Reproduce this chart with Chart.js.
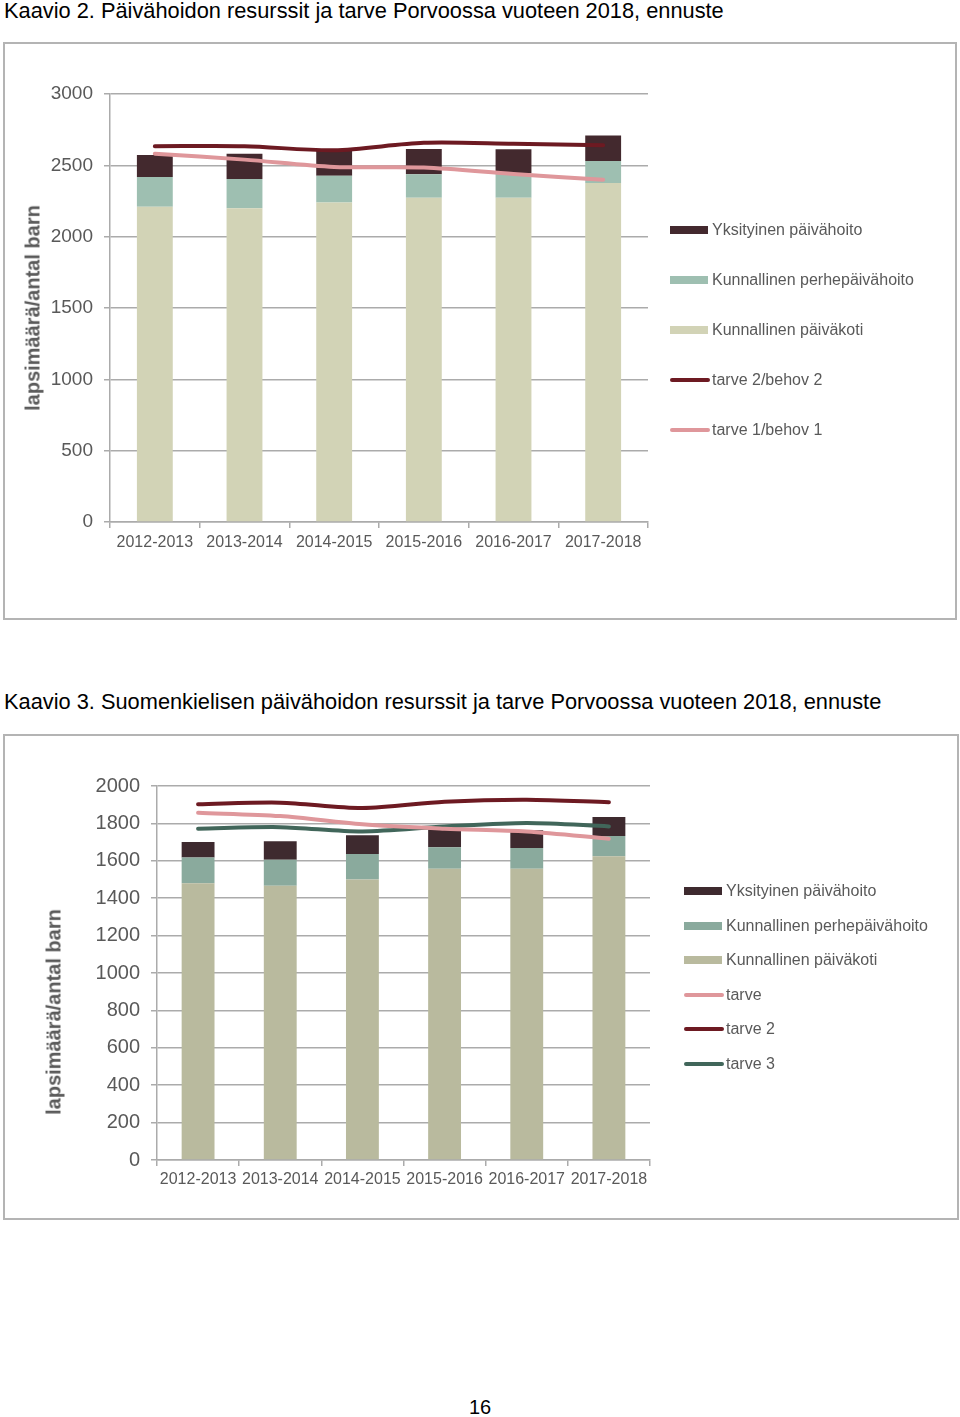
<!DOCTYPE html>
<html>
<head>
<meta charset="utf-8">
<script src="https://cdn.jsdelivr.net/npm/chart.js@4.4.1/dist/chart.umd.min.js"></script>
<style>
  body { margin: 0; background: #fff; font-family: "Liberation Sans", Arial, sans-serif; }
  .page { position: relative; width: 960px; height: 1417px; overflow: hidden; }
  .caption { position: absolute; left: 4px; font-size: 21.8px; line-height: 24px; color: #000; white-space: nowrap; }
  .box { position: absolute; border: 2px solid #b4b4b4; box-sizing: border-box; }
  .box canvas { position: absolute; left: 0; top: 0; }
  .ytitle { position: absolute; font-weight: bold; font-size: 20px; color: #595959; white-space: nowrap;
            transform: translate(-50%, -50%) rotate(-90deg); }
  .legend-item { position: absolute; height: 20px; line-height: 20px; font-size: 16px; color: #595959; white-space: nowrap; }
  .legend-item .sw { position: absolute; left: 0; }
  .pagenum { position: absolute; left: 0; width: 960px; text-align: center; top: 1396px; font-size: 20px; color: #000; }
</style>
</head>
<body>
<div class="page">
  <div class="caption" style="top:-1px">Kaavio 2. Päivähoidon resurssit ja tarve Porvoossa vuoteen 2018, ennuste</div>
  <div class="box" style="left:3px;top:42px;width:954px;height:578px">
    <canvas id="chart1" width="950" height="574"></canvas>
  </div>
  <div class="ytitle" style="left:33px;top:308px">lapsimäärä/antal barn</div>

  <div class="caption" style="top:690px">Kaavio 3. Suomenkielisen päivähoidon resurssit ja tarve Porvoossa vuoteen 2018, ennuste</div>
  <div class="box" style="left:3px;top:734px;width:956px;height:486px">
    <canvas id="chart2" width="952" height="482"></canvas>
  </div>
  <div class="ytitle" style="left:54px;top:1012px">lapsimäärä/antal barn</div>

  <div class="pagenum">16</div>
</div>

<script>
const seasons = ['2012-2013', '2013-2014', '2014-2015', '2015-2016', '2016-2017', '2017-2018'];

// Kaavio 2 - koko Porvoo
const paivakoti1 = [2210, 2200, 2240, 2273, 2273, 2376];
const perhe1 = [208, 204, 187, 164, 173, 155];
const yksityinen1 = [155, 178, 180, 178, 167, 178];
const tarve2_1 = [2634, 2634, 2606, 2658, 2651, 2641];
const tarve1_1 = [2582, 2540, 2489, 2484, 2439, 2399];
const yTicks1 = [0, 500, 1000, 1500, 2000, 2500, 3000];

// Kaavio 3 - suomenkielinen
const paivakoti2 = [1480, 1466, 1500, 1557, 1557, 1625];
const perhe2 = [138, 140, 136, 115, 111, 107];
const yksityinen2 = [82, 99, 100, 96, 96, 102];
const tarve_2 = [1857, 1839, 1795, 1772, 1757, 1718];
const tarve2_2 = [1902, 1911, 1882, 1916, 1927, 1913];
const tarve3_2 = [1772, 1780, 1757, 1783, 1802, 1784];
const yTicks2 = [0, 200, 400, 600, 800, 1000, 1200, 1400, 1600, 1800, 2000];

const FONT = '"Liberation Sans", Arial, sans-serif';
const GRID = '#ababab';
const TEXT = '#595959';

function bar(label, data, color) {
  return { type: 'bar', label, data, backgroundColor: color, stack: 'bars', order: 1 };
}

function line(label, data, color, stack) {
  return {
    type: 'line', label, data, borderColor: color, backgroundColor: color, stack, order: 0,
    borderWidth: 4, pointRadius: 0, tension: 0.3, fill: false, borderCapStyle: 'round'
  };
}

function makeChart(id, datasets, yTicks, o) {
  return new Chart(document.getElementById(id), {
    data: { labels: seasons, datasets },
    options: {
      responsive: false,
      animation: false,
      devicePixelRatio: 1,
      layout: { padding: { left: 0, top: 50, right: o.right, bottom: 0 } },
      plugins: { legend: { display: false }, tooltip: { enabled: false } },
      datasets: { bar: { barPercentage: 0.4, categoryPercentage: 1 } },
      scales: {
        x: {
          stacked: true,
          grid: { drawOnChartArea: false, offset: true, tickLength: 6, color: GRID, lineWidth: 1.5 },
          border: { color: GRID, width: 1.5 },
          ticks: { color: TEXT, font: { family: FONT, size: 16 }, padding: o.xPad, maxRotation: 0 },
          afterFit: s => { s.height = o.xHeight; }
        },
        y: {
          stacked: true,
          min: 0,
          max: yTicks[yTicks.length - 1],
          afterBuildTicks: s => { s.ticks = yTicks.map(v => ({ value: v })); },
          grid: { tickLength: 6, color: GRID, lineWidth: 1.5 },
          border: { color: GRID, width: 1.5 },
          ticks: { color: TEXT, font: { family: FONT, size: o.ySize }, padding: 11, callback: v => String(v) },
          afterFit: s => { s.width = o.yWidth; }
        }
      }
    }
  });
}

// legend built from the datasets: bars from top down, then lines
function makeLegend(chart, order, left, tops) {
  const page = document.querySelector('.page');
  order.forEach((i, k) => {
    const ds = chart.data.datasets[i];
    const item = document.createElement('div');
    item.className = 'legend-item';
    item.style.left = left + 'px';
    item.style.top = (tops[k] - 10) + 'px';
    item.style.paddingLeft = '42px';
    const sw = document.createElement('span');
    sw.className = 'sw';
    if (ds.type === 'bar') {
      sw.style.cssText = 'width:38px;height:8px;top:6px;background:' + ds.backgroundColor;
    } else {
      sw.style.cssText = 'width:40px;height:4px;top:8px;border-radius:2px;background:' + ds.borderColor;
    }
    item.appendChild(sw);
    item.appendChild(document.createTextNode(ds.label));
    page.appendChild(item);
  });
}

const chart1 = makeChart('chart1', [
  line('tarve 2/behov 2', tarve2_1, '#6d1a22', 'l1'),
  line('tarve 1/behov 1', tarve1_1, '#df979b', 'l2'),
  bar('Kunnallinen päiväkoti', paivakoti1, '#d2d3b6'),
  bar('Kunnallinen perhepäivähoito', perhe1, '#9ebfb1'),
  bar('Yksityinen päivähoito', yksityinen1, '#43292e')
], yTicks1, { right: 307, xHeight: 96, xPad: 5, yWidth: 105, ySize: 19 });

const chart2 = makeChart('chart2', [
  line('tarve', tarve_2, '#df979b', 'l1'),
  line('tarve 2', tarve2_2, '#6d1a22', 'l2'),
  line('tarve 3', tarve3_2, '#41665a', 'l3'),
  bar('Kunnallinen päiväkoti', paivakoti2, '#b9ba9e'),
  bar('Kunnallinen perhepäivähoito', perhe2, '#8aaa9d'),
  bar('Yksityinen päivähoito', yksityinen2, '#3e2a2f')
], yTicks2, { right: 307, xHeight: 58, xPad: 4, yWidth: 152, ySize: 20 });

makeLegend(chart1, [4, 3, 2, 0, 1], 670, [230, 280, 330, 380, 430]);
makeLegend(chart2, [5, 4, 3, 0, 1, 2], 684, [891, 926, 960, 995, 1029, 1064]);
</script>
</body>
</html>
